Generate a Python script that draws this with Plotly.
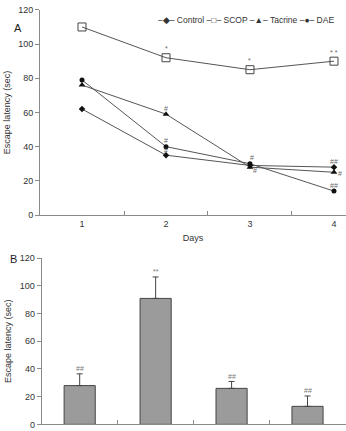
import plotly.graph_objects as go

W, H = 346, 431

# ---------- data ----------
days = [1, 2, 3, 4]
control = [62, 35, 29, 28]
scop = [110, 92, 85, 90]
tacrine = [76, 59, 28, 25]
dae = [79, 40, 30, 14]

series_names = ["Control", "SCOP", "Tacrine", "DAE"]
legend_glyphs = ["\u25c6", "\u25a1", "\u25b2", "\u25cf"]

groups = ["Control", "SCOP", "Tacrine", "DAE"]
bar_values = [28, 91, 26, 13]
bar_errors = [8.5, 15.5, 5, 7.5]
bar_sig = ["##", "**", "##", "##"]

y_ticks = [0, 20, 40, 60, 80, 100, 120]

# significance marks on panel A: (series, day index, text, xshift, yshift)
sig_a = [
    (scop, 1, "*", 0, 9), (scop, 2, "*", 0, 9), (scop, 3, "* *", 0, 9),
    (tacrine, 1, "#", 0, 6), (dae, 1, "#", 0, 6), (control, 1, "#", 0, 5),
    (dae, 2, "#", 2, 6), (tacrine, 2, "#", 5, -3),
    (control, 3, "##", 0, 6), (tacrine, 3, "#", 6, -1), (dae, 3, "##", 0, 6),
]

# ---------- figure ----------
line_col = "#555555"
axis_col = "#8a8a8a"
font_fam = "Liberation Sans, Arial, sans-serif"

fig = go.Figure()

marker_specs = [
    dict(symbol="diamond", size=5, color="#111111"),
    dict(symbol="square-open", size=8, color="#444444", line=dict(width=1)),
    dict(symbol="triangle-up", size=6, color="#111111"),
    dict(symbol="circle", size=5, color="#111111"),
]
for name, vals, mk in zip(series_names, [control, scop, tacrine, dae], marker_specs):
    fig.add_trace(go.Scatter(
        x=days, y=vals, mode="lines+markers", name=name,
        line=dict(color=line_col, width=1), marker=mk,
        xaxis="x", yaxis="y", showlegend=False,
    ))

fig.add_trace(go.Bar(
    x=groups, y=bar_values, width=0.41,
    marker=dict(color="#9b9b9b", line=dict(color="#454545", width=1)),
    error_y=dict(type="data", symmetric=False, array=bar_errors,
                 arrayminus=[0] * len(bar_errors),
                 color="#444444", thickness=1, width=3),
    xaxis="x2", yaxis="y2", showlegend=False,
))

annotations = []
# manual legend line
legend_text = " ".join(f"\u2013{g}\u2013 {n}" for g, n in zip(legend_glyphs, series_names))
annotations.append(dict(
    text=legend_text, xref="paper", yref="paper", x=156 / W, y=1 - 15 / H,
    xanchor="left", yanchor="middle", showarrow=False,
    font=dict(size=8.5, color="#333333", family=font_fam),
))
for ser, i, txt, xs, ys in sig_a:
    annotations.append(dict(
        text=txt, x=days[i], y=ser[i], xref="x", yref="y", showarrow=False,
        xshift=xs, yshift=ys, font=dict(size=7, color="#666666", family=font_fam),
    ))
for g, v, e, s in zip(groups, bar_values, bar_errors, bar_sig):
    annotations.append(dict(
        text=s, x=g, y=v + e, xref="x2", yref="y2", showarrow=False,
        yshift=5, font=dict(size=7, color="#777777", family=font_fam),
    ))
annotations.append(dict(text="A", xref="paper", yref="paper", x=12 / W, y=1 - 15 / H,
                        showarrow=False, font=dict(size=11, color="#222222", family=font_fam)))
annotations.append(dict(text="B", xref="paper", yref="paper", x=8 / W, y=1 - 260 / H,
                        showarrow=False, font=dict(size=11, color="#222222", family=font_fam)))

axis_common = dict(showgrid=False, zeroline=False, showline=True,
                   linecolor=axis_col, linewidth=1,
                   tickfont=dict(size=9, color="#333333", family=font_fam))

fig.update_layout(
    width=W, height=H, margin=dict(l=0, r=0, t=0, b=0),
    paper_bgcolor="white", plot_bgcolor="white",
    font=dict(family=font_fam, color="#333333"),
    annotations=annotations,
    xaxis=dict(domain=[40 / W, 1], range=[0.5, 4.143], tickvals=days,
               ticks="", ticklen=0,
               minor=dict(tickmode="array", tickvals=[1.5, 2.5, 3.5],
                          ticks="inside", ticklen=4, tickcolor=axis_col),
               title=dict(text="Days", font=dict(size=9), standoff=6),
               anchor="y", **axis_common),
    yaxis=dict(domain=[1 - 215 / H, 1 - 5 / H], range=[0, 120], tickvals=y_ticks,
               ticks="outside", ticklen=4, tickcolor=axis_col,
               title=dict(text="Escape latency (sec)", font=dict(size=9), standoff=6),
               anchor="x", **axis_common),
    xaxis2=dict(domain=[41.7 / W, 345.5 / W], range=[-0.5, 3.5], type="category",
                tickson="boundaries", ticks="inside", ticklen=4, tickcolor=axis_col,
                showticklabels=False, anchor="y2", **axis_common),
    yaxis2=dict(domain=[1 - 429.3 / H, 1 - 259.3 / H], range=[0, 120], tickvals=y_ticks,
                ticks="outside", ticklen=4, tickcolor=axis_col,
                title=dict(text="Escape latency (sec)", font=dict(size=9), standoff=6),
                anchor="x2", **axis_common),
)

fig.write_html("out.html")
